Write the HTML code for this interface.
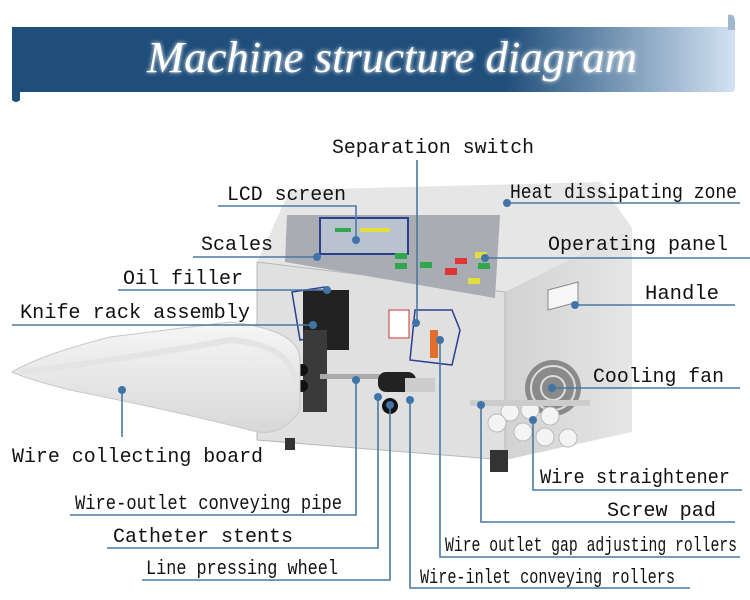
<!DOCTYPE html>
<html><head><meta charset="utf-8"><style>
html,body{margin:0;padding:0;background:#fff;width:750px;height:600px;overflow:hidden}
svg{display:block}
.l{font-family:"Liberation Mono","DejaVu Sans Mono",monospace;font-size:20px;fill:#111}
</style></head><body>
<svg width="750" height="600" viewBox="0 0 750 600" xmlns="http://www.w3.org/2000/svg">
<defs>
<linearGradient id="bn" x1="0" x2="1" y1="0" y2="0">
<stop offset="0" stop-color="#1f4e7a"/><stop offset="0.68" stop-color="#1f4e7a"/><stop offset="1" stop-color="#d2e2f2"/></linearGradient>
<linearGradient id="side" x1="0" x2="1"><stop offset="0" stop-color="#d2d2d2"/><stop offset="1" stop-color="#e6e6e6"/></linearGradient>
<linearGradient id="board" x1="0" y1="0" x2="0" y2="1"><stop offset="0" stop-color="#f6f6f6"/><stop offset="1" stop-color="#d8d8d8"/></linearGradient>
<filter id="glow"><feGaussianBlur stdDeviation="2" result="b"/><feMerge><feMergeNode in="b"/><feMergeNode in="SourceGraphic"/></feMerge></filter>
</defs>
<!-- banner -->
<path d="M12 27 H735 V88 Q735 92 731 92 H20 V100 Q16 104 12 100 Z" fill="url(#bn)"/>
<path d="M728 15 Q735 13 735 22 V30 H728 Z" fill="#9fb8d0"/>
<text x="392" y="72" text-anchor="middle" font-family="Liberation Serif,serif" font-style="italic" font-size="44" fill="#fff" filter="url(#glow)" textLength="490" lengthAdjust="spacingAndGlyphs">Machine structure diagram</text>

<!-- machine body -->
<polygon points="290,190 600,182 632,228 505,292 257,262" fill="#e6e6e6"/>
<polygon points="505,292 632,228 632,432 505,460" fill="url(#side)"/>
<polygon points="257,262 505,292 505,460 257,440" fill="#e0e0e0" stroke="#b8b8b8"/>
<polygon points="287,215 500,215 495,298 285,262" fill="#a9adb3"/>
<rect x="320" y="218" width="88" height="36" fill="#b9c3cf" stroke="#2a3f8f" stroke-width="2"/>
<rect x="335" y="228" width="16" height="4" fill="#2ea84b"/><rect x="360" y="228" width="30" height="4" fill="#e2df3c"/>
<rect x="395" y="253" width="12" height="6" fill="#2ea84b"/><rect x="395" y="263" width="12" height="6" fill="#2ea84b"/>
<rect x="420" y="262" width="12" height="6" fill="#2ea84b"/><rect x="445" y="268" width="12" height="7" fill="#e03535"/>
<rect x="455" y="258" width="12" height="6" fill="#e03535"/><rect x="475" y="252" width="12" height="6" fill="#e2df3c"/>
<rect x="478" y="263" width="12" height="6" fill="#2ea84b"/><rect x="468" y="278" width="12" height="6" fill="#e2df3c"/>
<!-- handle / fan -->
<polygon points="548,290 578,282 578,302 548,310" fill="#f6f6f6" stroke="#888"/>
<circle cx="553" cy="388" r="28" fill="#8a8a8a"/><circle cx="553" cy="388" r="22" fill="none" stroke="#ddd" stroke-width="2"/><circle cx="553" cy="388" r="12" fill="none" stroke="#ddd" stroke-width="2"/>
<!-- feet -->
<rect x="490" y="450" width="18" height="22" fill="#333"/><rect x="285" y="438" width="10" height="12" fill="#333"/>
<!-- knife assembly -->
<path d="M292 292 L325 287 L335 300 L335 335 L300 340 Z" fill="none" stroke="#2a3f8f" stroke-width="1.5"/>
<rect x="303" y="290" width="46" height="60" fill="#222"/>
<rect x="303" y="330" width="24" height="82" fill="#3a3a3a"/>
<circle cx="302" cy="370" r="6" fill="#111"/><circle cx="302" cy="386" r="6" fill="#111"/>
<rect x="320" y="374" width="60" height="5" fill="#aaa"/>
<rect x="378" y="372" width="38" height="20" fill="#222" rx="8"/><circle cx="390" cy="406" r="8" fill="#111"/>
<rect x="405" y="378" width="30" height="14" fill="#ccc"/>
<rect x="389" y="310" width="20" height="28" fill="#fff" stroke="#c33"/>
<path d="M415 310 L452 310 L460 330 L452 365 L410 360 Z" fill="none" stroke="#2a3f8f" stroke-width="1.5"/>
<rect x="430" y="330" width="8" height="28" fill="#e2702a"/>
<!-- straightener rollers -->
<g fill="#f4f4f4" stroke="#bbb"><circle cx="510" cy="412" r="9"/><circle cx="530" cy="410" r="9"/><circle cx="550" cy="416" r="9"/><circle cx="497" cy="423" r="9"/><circle cx="523" cy="432" r="9"/><circle cx="545" cy="437" r="9"/><circle cx="568" cy="438" r="9"/></g>
<rect x="470" y="400" width="120" height="6" fill="#ccc"/>
<!-- wire collecting board -->
<path d="M12 372 Q40 355 110 337 L230 322 Q300 330 300 360 L300 410 Q280 440 250 430 Q170 410 70 390 Q30 380 12 372 Z" fill="url(#board)" stroke="#c8c8c8"/>
<path d="M20 372 Q120 360 230 340 Q290 345 295 380" fill="none" stroke="#e4e4e4" stroke-width="6"/>

<!-- connectors -->
<g stroke="#4a78a3" stroke-width="1.6" fill="none">
<path d="M417 160 V320"/>
<path d="M218 206 H356 V240"/>
<path d="M193 257 H317"/>
<path d="M507 203 H740"/>
<path d="M485 258 H750"/>
<path d="M118 290 H327"/>
<path d="M12 325 H313"/>
<path d="M575 305 H735"/>
<path d="M552 388 H740"/>
<path d="M122 390 V437"/>
<path d="M70 515 H356 V380"/>
<path d="M107 548 H378 V397"/>
<path d="M142 580 H390 V405"/>
<path d="M410 400 V588 H690"/>
<path d="M440 340 V557 H740"/>
<path d="M481 405 V522 H735"/>
<path d="M533 420 V490 H742"/>
</g>
<g fill="#3f74a8">
<circle cx="416" cy="323" r="4"/><circle cx="356" cy="240" r="4"/><circle cx="317" cy="257" r="4"/><circle cx="507" cy="203" r="4"/><circle cx="485" cy="258" r="4"/><circle cx="327" cy="290" r="4"/><circle cx="313" cy="325" r="4"/><circle cx="575" cy="305" r="4"/><circle cx="552" cy="388" r="4"/><circle cx="122" cy="390" r="4"/><circle cx="356" cy="380" r="4"/><circle cx="378" cy="397" r="4"/><circle cx="390" cy="405" r="4"/><circle cx="410" cy="400" r="4"/><circle cx="440" cy="340" r="4"/><circle cx="481" cy="405" r="4"/><circle cx="533" cy="420" r="4"/>
</g>

<!-- labels -->
<text class="l" x="332" y="153" textLength="202" lengthAdjust="spacingAndGlyphs">Separation switch</text>
<text class="l" x="227" y="200" textLength="119" lengthAdjust="spacingAndGlyphs">LCD screen</text>
<text class="l" x="510" y="198" textLength="227" lengthAdjust="spacingAndGlyphs">Heat dissipating zone</text>
<text class="l" x="201" y="250" textLength="72" lengthAdjust="spacingAndGlyphs">Scales</text>
<text class="l" x="548" y="250" textLength="180" lengthAdjust="spacingAndGlyphs">Operating panel</text>
<text class="l" x="123" y="284" textLength="120" lengthAdjust="spacingAndGlyphs">Oil filler</text>
<text class="l" x="645" y="299" textLength="74" lengthAdjust="spacingAndGlyphs">Handle</text>
<text class="l" x="20" y="318" textLength="230" lengthAdjust="spacingAndGlyphs">Knife rack assembly</text>
<text class="l" x="593" y="382" textLength="131" lengthAdjust="spacingAndGlyphs">Cooling fan</text>
<text class="l" x="12" y="462" textLength="251" lengthAdjust="spacingAndGlyphs">Wire collecting board</text>
<text class="l" x="540" y="483" textLength="190" lengthAdjust="spacingAndGlyphs">Wire straightener</text>
<text class="l" x="75" y="509" font-size="17" textLength="267" lengthAdjust="spacingAndGlyphs">Wire-outlet conveying pipe</text>
<text class="l" x="607" y="516" textLength="109" lengthAdjust="spacingAndGlyphs">Screw pad</text>
<text class="l" x="113" y="542" textLength="180" lengthAdjust="spacingAndGlyphs">Catheter stents</text>
<text class="l" x="445" y="551" font-size="15" textLength="292" lengthAdjust="spacingAndGlyphs">Wire outlet gap adjusting rollers</text>
<text class="l" x="146" y="574" font-size="17" textLength="192" lengthAdjust="spacingAndGlyphs">Line pressing wheel</text>
<text class="l" x="420" y="583" font-size="15" textLength="255" lengthAdjust="spacingAndGlyphs">Wire-inlet conveying rollers</text>
</svg>
</body></html>
